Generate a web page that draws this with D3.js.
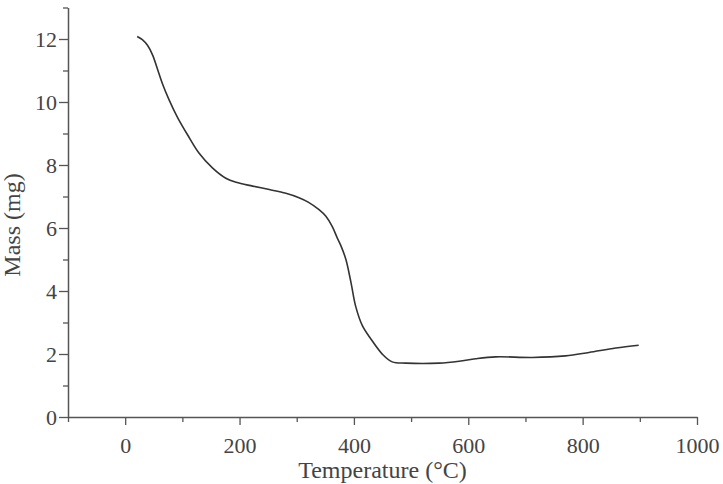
<!DOCTYPE html>
<html>
<head>
<meta charset="utf-8">
<script src="https://cdn.jsdelivr.net/npm/d3@7"></script>
<style>
  html, body { margin: 0; padding: 0; background: #fff; }
  svg { display: block; }
</style>
</head>
<body>
<script>
// Data (TGA curve)
const temperature = [21, 30, 39, 48, 56, 65, 77, 91, 109, 129, 153, 176, 194, 223, 252, 281, 304, 320, 339, 351, 362, 371, 377, 386, 395, 403, 415, 430, 450, 467, 491, 549, 584, 613, 648, 712, 770, 811, 858, 898];
const mass        = [12.08, 11.98, 11.80, 11.49, 11.07, 10.59, 10.06, 9.53, 8.96, 8.38, 7.90, 7.58, 7.45, 7.33, 7.22, 7.10, 6.96, 6.82, 6.58, 6.37, 6.05, 5.68, 5.45, 5.00, 4.26, 3.52, 2.89, 2.47, 1.99, 1.75, 1.71, 1.71, 1.77, 1.85, 1.91, 1.89, 1.94, 2.05, 2.19, 2.28];
const xMajorTicks = [0, 200, 400, 600, 800, 1000];
const xMinorTicks = [-100, 100, 300, 500, 700, 900];
const yMajorTicks = [0, 2, 4, 6, 8, 10, 12];
const yMinorTicks = [1, 3, 5, 7, 9, 11, 13];
const xTitle = "Temperature (°C)";
const yTitle = "Mass (mg)";

const W = 723, H = 484;
const mLeft = 68, mRight = 697, mTop = 7.5, mBottom = 417;
const axisColor = "#555", textColor = "#444";
const font = "'Liberation Serif', 'Times New Roman', serif";

const svg = d3.select("body").append("svg").attr("width", W).attr("height", H);

const x = d3.scaleLinear().domain([-100, 1000]).range([mLeft, mRight]);
const y = d3.scaleLinear().domain([0, 13]).range([mBottom, mTop]);

// X axis
const gx = svg.append("g").attr("transform", `translate(0,${mBottom})`);
gx.call(d3.axisBottom(x).tickValues(xMinorTicks).tickSize(5).tickFormat(""));
gx.call(g => g.select(".domain").remove());
const gx2 = svg.append("g").attr("transform", `translate(0,${mBottom})`);
gx2.call(d3.axisBottom(x).tickValues(xMajorTicks).tickSize(8).tickSizeOuter(0).tickPadding(12).tickFormat(d3.format("d")));
gx2.select(".domain").attr("stroke", axisColor).attr("stroke-width", 1.5);
gx2.selectAll("text").attr("font-family", font).attr("font-size", 22).attr("fill", textColor).attr("dy", "0.71em");

// Y axis
const gy = svg.append("g").attr("transform", `translate(${mLeft},0)`);
gy.call(d3.axisLeft(y).tickValues(yMinorTicks).tickSize(5).tickFormat(""));
gy.call(g => g.select(".domain").remove());
const gy2 = svg.append("g").attr("transform", `translate(${mLeft},0)`);
gy2.call(d3.axisLeft(y).tickValues(yMajorTicks).tickSize(9).tickSizeOuter(0).tickPadding(2).tickFormat(d3.format("d")));
gy2.select(".domain").attr("stroke", axisColor).attr("stroke-width", 1.5);
gy2.selectAll("text").attr("font-family", font).attr("font-size", 22).attr("fill", textColor);
svg.selectAll(".tick line").attr("stroke", axisColor).attr("stroke-width", 1.3);

// Axis titles
svg.append("text")
  .attr("x", (mLeft + mRight) / 2).attr("y", 478)
  .attr("text-anchor", "middle")
  .attr("font-family", font).attr("font-size", 24).attr("fill", textColor)
  .text(xTitle);
svg.append("text")
  .attr("transform", `translate(20,${225}) rotate(-90)`)
  .attr("text-anchor", "middle")
  .attr("font-family", font).attr("font-size", 24).attr("fill", textColor)
  .text(yTitle);

// Curve
const pts = temperature.map((t, i) => [t, mass[i]]);
const line = d3.line().x(d => x(d[0])).y(d => y(d[1])).curve(d3.curveCatmullRom.alpha(0.5));
svg.append("path").datum(pts)
  .attr("d", line)
  .attr("fill", "none")
  .attr("stroke", "#333")
  .attr("stroke-width", 1.6);
</script>
</body>
</html>
